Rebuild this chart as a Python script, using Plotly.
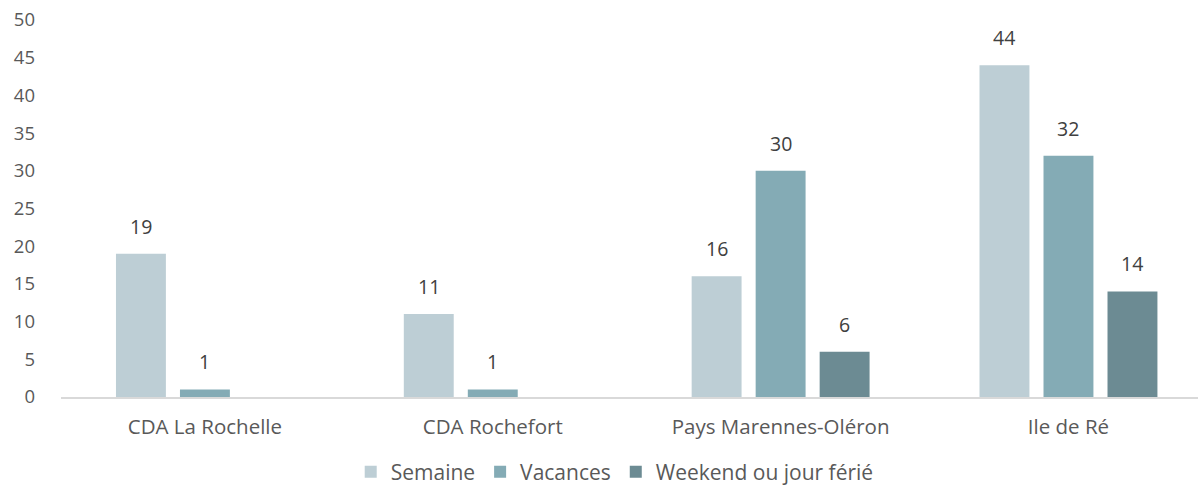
import plotly.graph_objects as go

categories = ["CDA La Rochelle", "CDA Rochefort", "Pays Marennes-Oléron", "Ile de Ré"]
semaine = [19, 11, 16, 44]
vacances = [1, 1, 30, 32]
weekend = [None, None, 6, 14]
series_names = ["Semaine", "Vacances", "Weekend ou jour férié"]
colors = ["#BDCED5", "#84ABB5", "#6C8B93"]
y_ticks = [0, 5, 10, 15, 20, 25, 30, 35, 40, 45, 50]

FONT = "Open Sans"
fig = go.Figure()
all_series = [semaine, vacances, weekend]
for name, vals, col in zip(series_names, all_series, colors):
    fig.add_trace(go.Bar(x=categories, y=vals, name=name, marker_color=col,
                         marker_line_width=0))

annotations = []
for i, vals in enumerate(all_series):
    for c, v in zip(categories, vals):
        if v is None:
            continue
        annotations.append(dict(x=c, y=v, xref="x", yref="y", text=str(v),
                                showarrow=False, yanchor="bottom", yshift=12,
                                xshift=(i - 1) * 64,
                                font=dict(family=FONT, size=19.5, color="#404040")))

fig.update_layout(
    width=1198, height=489,
    margin=dict(l=61, r=0, t=20, b=92),
    paper_bgcolor="white", plot_bgcolor="white",
    barmode="group", bargap=0.333, bargroupgap=0.22,
    font=dict(family=FONT, size=19, color="#595959"),
    showlegend=True,
    legend=dict(orientation="h", x=0.487, xanchor="center", yref="container",
                y=1 - 472 / 489, yanchor="middle",
                font=dict(family=FONT, size=21, color="#595959"),
                itemwidth=30, traceorder="normal"),
    annotations=annotations,
)
fig.update_xaxes(range=[-0.5, 3.45], showline=True, linecolor="#D9D9D9", linewidth=2,
                 showgrid=False, ticks="", ticklabelstandoff=10, automargin=False,
                 tickfont=dict(family=FONT, size=20.5, color="#595959"))
fig.update_yaxes(range=[0, 50], tickvals=y_ticks, showgrid=False, zeroline=False,
                 showline=False, ticks="", ticklabelstandoff=25, automargin=False,
                 ticklabeloverflow="allow",
                 tickfont=dict(family=FONT, size=18.5, color="#595959"))

fig.write_html("out.html", config={"displayModeBar": False},
               post_script="document.body.style.margin='0';")
